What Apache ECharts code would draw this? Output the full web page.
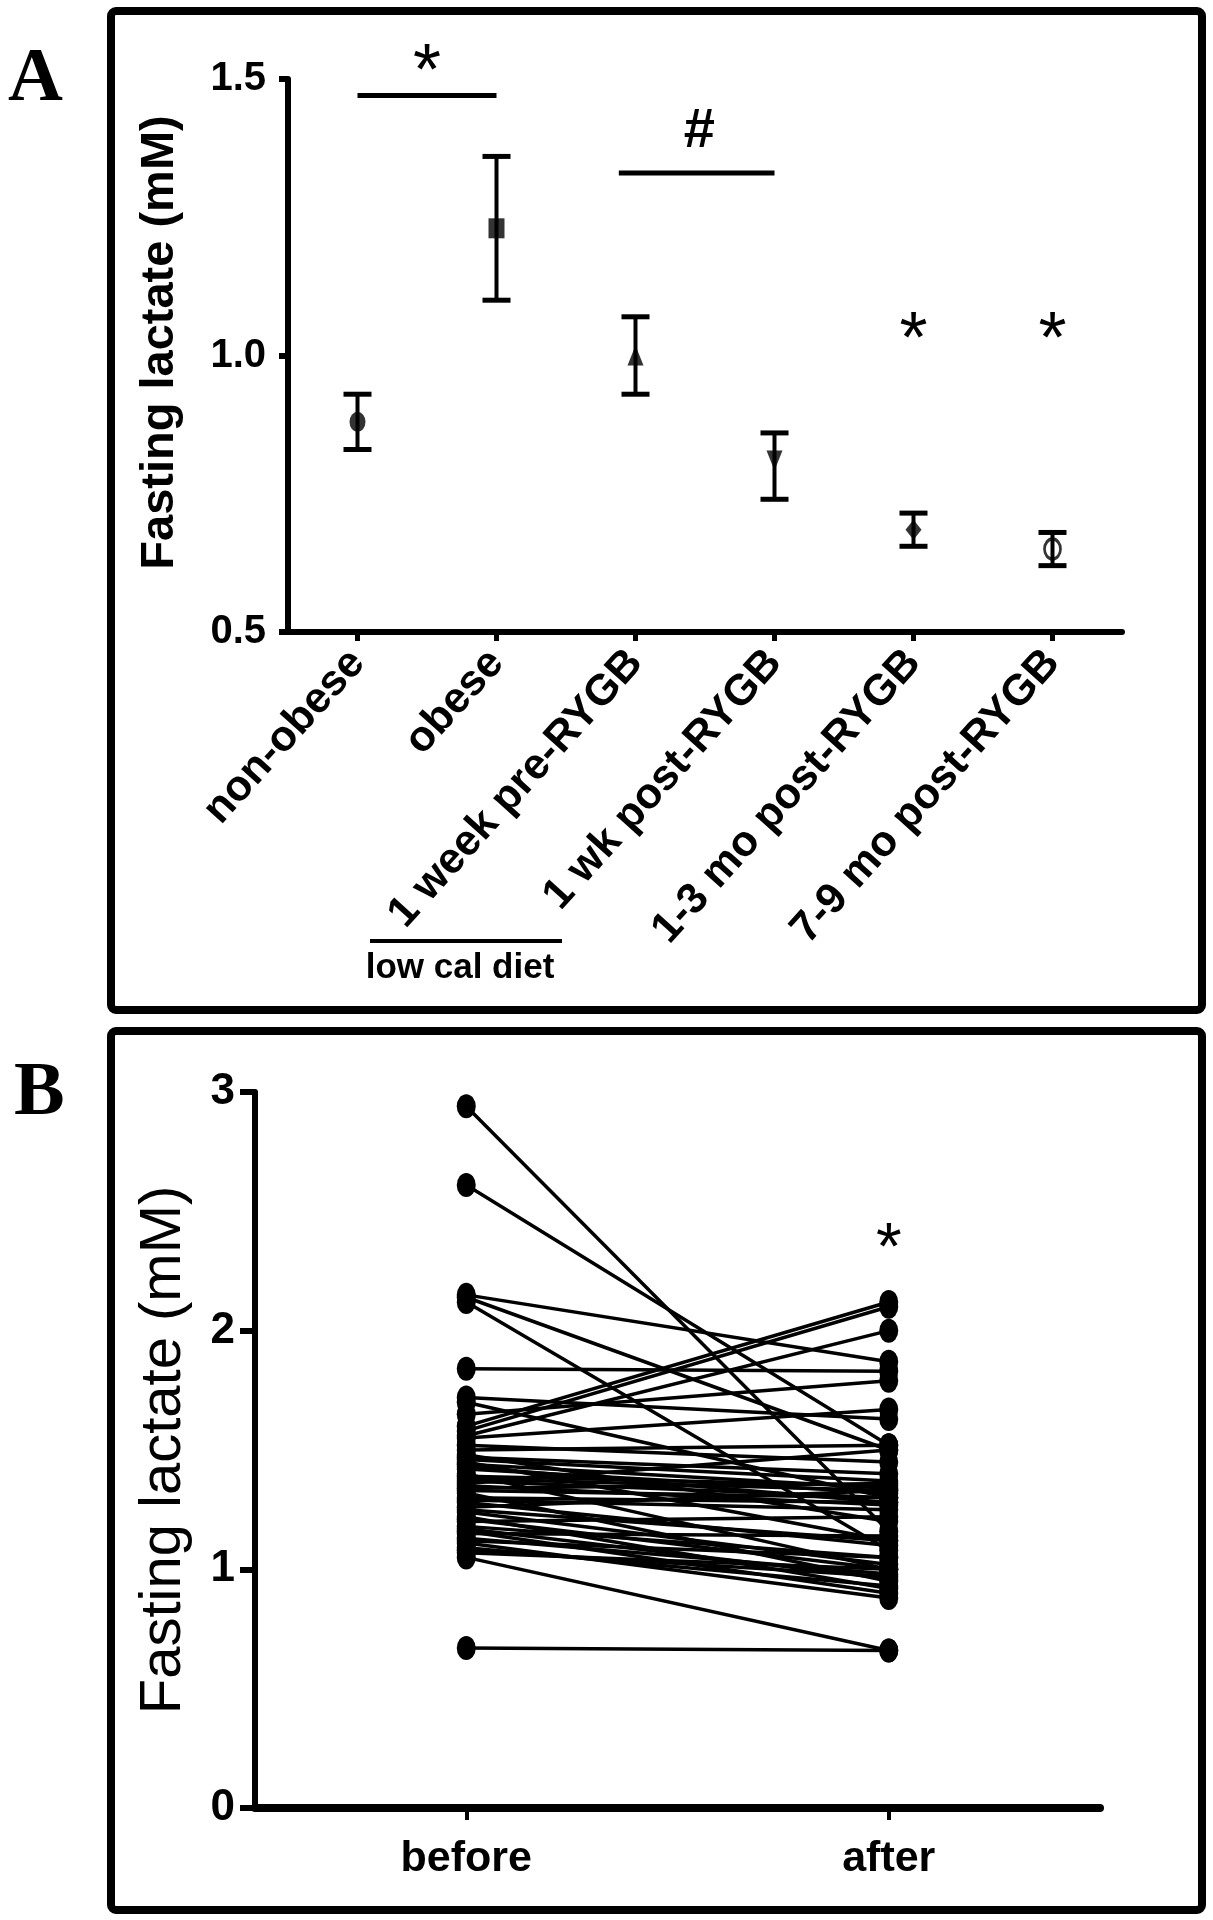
<!DOCTYPE html>
<html>
<head>
<meta charset="utf-8">
<script src="https://cdn.jsdelivr.net/npm/echarts@6/dist/echarts.min.js"></script>
<style>
html,body{margin:0;padding:0;background:#fff;}
#c{width:1213px;height:1920px;}
</style>
</head>
<body>
<div id="c"></div>
<script>
// ---------- Panel A data ----------
const groupsA = ['non-obese', 'obese', '1 week pre-RYGB', '1 wk post-RYGB', '1-3 mo post-RYGB', '7-9 mo post-RYGB'];
const meanA  = [0.88, 1.23, 1.00, 0.81, 0.685, 0.65];
const upperA = [0.93, 1.36, 1.07, 0.86, 0.715, 0.68];
const lowerA = [0.83, 1.10, 0.93, 0.74, 0.655, 0.62];
const yTicksA = [0.5, 1.0, 1.5];
// significance bars: [from category, to category, value]
const sigBarFromA = [0, 1.88];
const sigBarToA   = [1, 3];
const sigBarYA    = [1.47, 1.33];
// significance marks
const sigMarkXA = [0.5, 2.46, 4, 5];
const sigMarkYA = [1.54, 1.405, 1.055, 1.055];
const sigMarkTextA = ['*', '#', '*', '*'];

// ---------- Panel B data ----------
const groupsB = ['before', 'after'];
const beforeB = [2.94, 2.61, 2.15, 2.14, 2.12, 1.84, 1.72, 1.70, 1.65, 1.60, 1.58, 1.56, 1.55, 1.52, 1.50,
                 1.48, 1.46, 1.44, 1.42, 1.40, 1.39, 1.37, 1.35, 1.34, 1.32, 1.30, 1.28, 1.26, 1.24, 1.22,
                 1.20, 1.18, 1.16, 1.15, 1.13, 1.11, 1.09, 1.07, 1.05, 0.67, 1.45, 1.36,
                 1.43, 1.38, 1.33, 1.29, 1.25, 1.21, 1.17, 1.12, 1.08, 1.47];
const afterB  = [1.16, 1.52, 1.87, 1.50, 1.08, 1.83, 1.63, 1.30, 1.79, 2.12, 2.10, 2.00, 1.67, 1.45, 1.52,
                 1.20, 1.37, 1.34, 1.32, 1.00, 1.35, 1.30, 1.27, 1.36, 0.95, 1.28, 1.10, 1.33, 1.02, 0.92,
                 1.22, 1.05, 0.90, 1.14, 0.98, 0.88, 0.93, 1.00, 0.66, 0.66, 1.12, 1.50,
                 1.28, 1.33, 1.30, 1.25, 1.12, 1.00, 0.96, 1.05, 0.97, 1.40];
const yTicksB = [0, 1, 2, 3];
const sigMarkXB = [1];
const sigMarkYB = [2.40];
const sigMarkTextB = ['*'];

// ---------- styles ----------
const SANS = "'Liberation Sans', Arial, Helvetica, sans-serif";
const SERIF = "'Liberation Serif', 'Times New Roman', serif";
const markerStyleA = [
  {symbol: 'circle', rotate: 0, fill: '#000'},
  {symbol: 'rect', rotate: 0, fill: '#000'},
  {symbol: 'triangle', rotate: 0, fill: '#000'},
  {symbol: 'triangle', rotate: 180, fill: '#000'},
  {symbol: 'diamond', rotate: 0, fill: '#000'},
  {symbol: 'circle', rotate: 0, fill: 'rgba(0,0,0,0)'}
];

const chart = echarts.init(document.getElementById('c'), null, {renderer: 'canvas', width: 1213, height: 1920});

function xAt(api, xf, y) {
  const i0 = Math.floor(xf);
  const p = api.coord([i0, y]);
  const bw = api.size([1, 0])[0];
  return [p[0] + (xf - i0) * bw, p[1]];
}

function markSeries(xi, yi, xs, ys, texts, fs) {
  return {
    type: 'custom', xAxisIndex: xi, yAxisIndex: yi, z: 6, clip: false, silent: true,
    data: xs.map((x, k) => [x, ys[k]]),
    encode: {x: 0, y: 1},
    renderItem(params, api) {
      const t = texts[params.dataIndex];
      const p = xAt(api, api.value(0), api.value(1));
      const isStar = t === '*';
      const size = isStar ? fs : 56;
      const off = isStar ? 0.24 * size : 0;
      return {
        type: 'text', x: p[0], y: p[1] + off,
        style: {text: t, fontSize: size, fontWeight: isStar ? 'normal' : 'bold', fontFamily: SANS, fill: '#000', align: 'center', verticalAlign: 'middle'}
      };
    }
  };
}

const series = [];

// Panel A error bars
series.push({
  type: 'custom', xAxisIndex: 0, yAxisIndex: 0, z: 3, silent: true,
  data: groupsA.map((g, i) => [i, lowerA[i], upperA[i]]),
  encode: {x: 0, y: [1, 2]},
  renderItem(params, api) {
    const i = api.value(0);
    const lo = api.coord([i, api.value(1)]);
    const hi = api.coord([i, api.value(2)]);
    const hw = 14;
    return {
      type: 'group', children: [
        {type: 'line', shape: {x1: lo[0], y1: lo[1], x2: hi[0], y2: hi[1]}, style: {stroke: '#000', lineWidth: 4}},
        {type: 'line', shape: {x1: lo[0] - hw, y1: lo[1], x2: lo[0] + hw, y2: lo[1]}, style: {stroke: '#000', lineWidth: 5}},
        {type: 'line', shape: {x1: hi[0] - hw, y1: hi[1], x2: hi[0] + hw, y2: hi[1]}, style: {stroke: '#000', lineWidth: 5}}
      ]
    };
  }
});

// Panel A means
series.push({
  type: 'scatter', xAxisIndex: 0, yAxisIndex: 0, z: 5, silent: true,
  data: groupsA.map((g, i) => ({
    value: [i, meanA[i]],
    symbol: markerStyleA[i].symbol,
    symbolRotate: markerStyleA[i].rotate,
    itemStyle: {color: markerStyleA[i].fill, borderColor: '#000', borderWidth: i === 5 ? 3 : 0}
  })),
  symbolSize: [16, 20]
});

// Panel A significance bars
series.push({
  type: 'custom', xAxisIndex: 0, yAxisIndex: 0, z: 4, clip: false, silent: true,
  data: sigBarYA.map((y, k) => [sigBarFromA[k], sigBarToA[k], y]),
  encode: {x: [0, 1], y: 2},
  renderItem(params, api) {
    const a = xAt(api, api.value(0), api.value(2));
    const b = xAt(api, api.value(1), api.value(2));
    return {type: 'line', shape: {x1: a[0], y1: a[1], x2: b[0], y2: b[1]}, style: {stroke: '#000', lineWidth: 5}};
  }
});

series.push(markSeries(0, 0, sigMarkXA, sigMarkYA, sigMarkTextA, 72));

// Panel B paired lines
beforeB.forEach((b, k) => {
  series.push({
    type: 'line', xAxisIndex: 1, yAxisIndex: 1, silent: true,
    data: [b, afterB[k]],
    symbol: 'circle', symbolSize: [19, 24], showSymbol: true,
    lineStyle: {color: '#000', width: 3.5},
    itemStyle: {color: '#000'},
    z: 3
  });
});
series.push(markSeries(1, 1, sigMarkXB, sigMarkYB, sigMarkTextB, 66));

const axisLineA = {show: true, lineStyle: {color: '#000', width: 6}};
const axisLineB = {show: true, lineStyle: {color: '#000', width: 6}};

const option = {
  animation: false,
  backgroundColor: '#fff',
  grid: [
    {left: 288, top: 79, width: 834, height: 553, containLabel: false, outerBoundsMode: 'none'},
    {left: 255, top: 1092, width: 845, height: 716, containLabel: false, outerBoundsMode: 'none'}
  ],
  xAxis: [
    {
      gridIndex: 0, type: 'category', data: groupsA, boundaryGap: true,
      axisLine: axisLineA,
      axisTick: {show: true, alignWithLabel: true, length: 9, lineStyle: {color: '#000', width: 5}},
      axisLabel: {rotate: 48, interval: 0, margin: 24, fontSize: 43, fontWeight: 'bold', color: '#000', fontFamily: SANS},
      splitLine: {show: false}
    },
    {
      gridIndex: 1, type: 'category', data: groupsB, boundaryGap: true,
      axisLine: {show: true, lineStyle: {color: '#000', width: 8}},
      axisTick: {show: true, alignWithLabel: true, length: 12, lineStyle: {color: '#000', width: 4}},
      axisLabel: {interval: 0, margin: 30, fontSize: 43, fontWeight: 'bold', color: '#000', fontFamily: SANS},
      splitLine: {show: false}
    }
  ],
  yAxis: [
    {
      gridIndex: 0, type: 'value', min: yTicksA[0], max: yTicksA[yTicksA.length - 1], interval: 0.5,
      axisLine: axisLineA,
      axisTick: {show: true, length: 9, lineStyle: {color: '#000', width: 6}},
      axisLabel: {margin: 22, fontSize: 40, fontWeight: 'bold', color: '#000', fontFamily: SANS, formatter: v => v.toFixed(1)},
      splitLine: {show: false},
      name: 'Fasting lactate (mM)', nameLocation: 'middle', nameGap: 104, nameRotate: 90,
      nameTextStyle: {fontSize: 47, fontWeight: 'bold', color: '#000', fontFamily: SANS, padding: [0, 0, 0, 26]}
    },
    {
      gridIndex: 1, type: 'value', min: yTicksB[0], max: yTicksB[yTicksB.length - 1], interval: 1,
      axisLine: axisLineB,
      axisTick: {show: true, length: 15, lineStyle: {color: '#000', width: 6}},
      axisLabel: {margin: 20, fontSize: 44, fontWeight: 'bold', color: '#000', fontFamily: SANS},
      splitLine: {show: false},
      name: 'Fasting lactate (mM)', nameLocation: 'middle', nameGap: 62, nameRotate: 90,
      nameTextStyle: {fontSize: 58, color: '#000', fontFamily: SANS}
    }
  ],
  graphic: [
    {type: 'rect', shape: {x: 111, y: 11, width: 1091, height: 999, r: 5}, style: {fill: 'none', stroke: '#000', lineWidth: 8}, z: 0},
    {type: 'rect', shape: {x: 111, y: 1031, width: 1091, height: 879, r: 5}, style: {fill: 'none', stroke: '#000', lineWidth: 8}, z: 0},
    {type: 'text', x: 8, y: 42, style: {text: 'A', font: 'bold 76px ' + SERIF, fill: '#000', verticalAlign: 'top'}},
    {type: 'text', x: 14, y: 1056, style: {text: 'B', font: 'bold 76px ' + SERIF, fill: '#000', verticalAlign: 'top'}},
    {type: 'line', shape: {x1: 370, y1: 941, x2: 562, y2: 941}, style: {stroke: '#000', lineWidth: 4}},
    {type: 'text', x: 460, y: 968, style: {text: 'low cal diet', font: 'bold 35px ' + SANS, fill: '#000', align: 'center', verticalAlign: 'middle'}}
  ],
  series: series
};

chart.setOption(option);
</script>
</body>
</html>
